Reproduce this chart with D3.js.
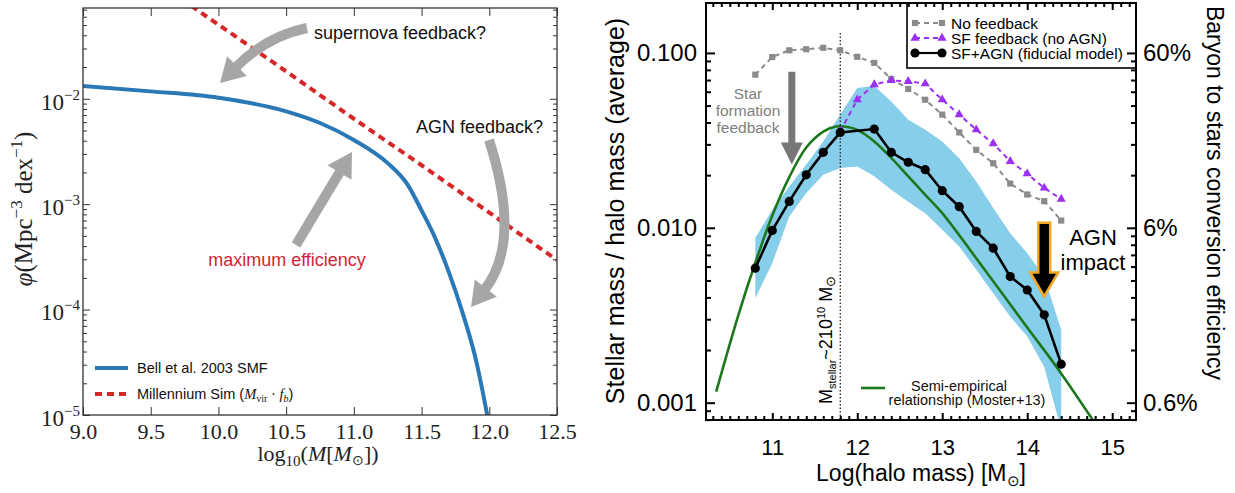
<!DOCTYPE html>
<html>
<head>
<meta charset="utf-8">
<script src="https://cdn.jsdelivr.net/npm/d3@7"></script>
<style>
  body { margin: 0; background: #fff; }
  svg { display: block; }
</style>
</head>
<body>
<svg id="chart" width="1235" height="493"></svg>
<script>
// ---- left panel: stellar mass function vs halo mass function ----
const bellMass = [9.0, 9.5, 10.0, 10.5, 10.75, 11.0, 11.25, 11.4, 11.5, 11.6, 11.7, 11.8, 11.9, 12.0];
const bellPhi = [0.01318, 0.01175, 0.01023, 0.00759, 0.00589, 0.00407, 0.00245, 0.00151, 0.000871, 0.000479, 0.000229, 0.0000955, 0.0000339, 0.0000079];
const millMass = [9.8, 10.5, 11.0, 11.5, 12.0, 12.5];
const millPhi = [0.0759, 0.0182, 0.00646, 0.00234, 0.000832, 0.000295];
const leftXTicks = [9.0, 9.5, 10.0, 10.5, 11.0, 11.5, 12.0, 12.5];
const leftYTicks = [1e-5, 1e-4, 1e-3, 1e-2];

// ---- right panel: stellar mass / halo mass ----
const haloMass = [10.8, 11.0, 11.2, 11.4, 11.6, 11.8, 12.0, 12.2, 12.4, 12.6, 12.8, 13.0, 13.2, 13.4, 13.6, 13.8, 14.0, 14.2, 14.4];
const noFeedback = [0.0751, 0.0948, 0.1035, 0.105, 0.107, 0.1035, 0.095, 0.0877, 0.071, 0.0622, 0.054, 0.0444, 0.0351, 0.0279, 0.0234, 0.0179, 0.0155, 0.0142, 0.011];
const sfMass = [11.8, 12.0, 12.2, 12.4, 12.6, 12.8, 13.0, 13.2, 13.4, 13.6, 13.8, 14.0, 14.2, 14.4];
const sfFeedback = [0.0356, 0.054, 0.0659, 0.0697, 0.0688, 0.0667, 0.054, 0.0444, 0.0364, 0.0303, 0.024, 0.0204, 0.0169, 0.0146];
const agnMass = [10.8, 11.0, 11.2, 11.4, 11.6, 11.8, 12.2, 12.4, 12.6, 12.8, 13.0, 13.2, 13.4, 13.6, 13.8, 14.0, 14.2, 14.4];
const sfAgn = [0.00588, 0.00966, 0.01416, 0.0201, 0.027, 0.0351, 0.0367, 0.027, 0.0237, 0.0215, 0.0163, 0.0132, 0.00953, 0.00765, 0.00526, 0.00441, 0.00318, 0.00166];
const bandHigh = [0.00873, 0.01268, 0.0172, 0.023, 0.0312, 0.0444, 0.063, 0.065, 0.0528, 0.0415, 0.0364, 0.0312, 0.025, 0.0184, 0.013, 0.0093, 0.00716, 0.00526, 0.0026];
const bandLow = [0.00396, 0.00628, 0.0116, 0.0158, 0.0201, 0.022, 0.0224, 0.0197, 0.0165, 0.0141, 0.0121, 0.00975, 0.00782, 0.00575, 0.00423, 0.0031, 0.00239, 0.0016, 0.0007];
const mosterMass = [10.34, 10.6, 10.8, 11.0, 11.2, 11.4, 11.6, 11.75, 11.9, 12.0, 12.2, 12.4, 12.6, 12.8, 13.0, 13.5, 14.0, 14.37, 14.8];
const mosterRatio = [0.001156, 0.00316, 0.00631, 0.01175, 0.0195, 0.0288, 0.0355, 0.038, 0.0376, 0.0363, 0.0312, 0.0251, 0.0197, 0.01545, 0.01213, 0.00575, 0.00269, 0.00154, 0.00076];
const rightXTicks = [11, 12, 13, 14, 15];
const rightYTicks = [0.001, 0.01, 0.1];
const efficiencyTicks = ['0.6%', '6%', '60%'];

const SANS = '"Liberation Sans", Arial, Helvetica, sans-serif';
const SERIF = '"Liberation Serif", "Times New Roman", serif';

const svg = d3.select('#chart');

// append a list of styled tspans to a text element
function addParts(text, parts) {
  parts.forEach(p => {
    const t = text.append('tspan').text(p.t);
    if (p.size) t.attr('font-size', p.size);
    if (p.dy) t.attr('dy', p.dy);
    if (p.dx) t.attr('dx', p.dx);
    if (p.italic) t.attr('font-style', 'italic');
    if (p.family) t.attr('font-family', p.family);
  });
  return text;
}

// curved block arrow: start, control, tip (pixels)
function curvedArrow(g, p0, c, p2, o) {
  const dx = p2[0] - c[0], dy = p2[1] - c[1], len = Math.hypot(dx, dy);
  const ux = dx / len, uy = dy / len;
  const bx = p2[0] - ux * o.head, by = p2[1] - uy * o.head;
  const p = d3.path();
  p.moveTo(p0[0], p0[1]);
  p.quadraticCurveTo(c[0], c[1], bx + ux * 2, by + uy * 2);
  g.append('path').attr('d', p).attr('fill', 'none')
    .attr('stroke', o.color).attr('stroke-width', o.width);
  g.append('path')
    .attr('d', `M${p2[0]},${p2[1]}L${bx - uy * o.half},${by + ux * o.half}L${bx + uy * o.half},${by - ux * o.half}Z`)
    .attr('fill', o.color);
}

// vertical block arrow pointing down
function downArrow(g, x, y0, y1, o) {
  const s = o.shaft / 2, h = o.half, yb = y1 - o.head;
  const pts = [[x - s, y0], [x + s, y0], [x + s, yb], [x + h, yb], [x, y1], [x - h, yb], [x - s, yb]];
  g.append('path').attr('d', 'M' + pts.join('L') + 'Z')
    .attr('fill', o.fill).attr('stroke', o.stroke || 'none')
    .attr('stroke-width', o.strokeWidth || 0).attr('stroke-linejoin', 'miter');
}

function tickStyle(g, color, width) {
  g.select('.domain').remove();
  g.selectAll('.tick line').attr('stroke', color).attr('stroke-width', width);
  return g;
}

// =================== LEFT PANEL ===================
const L = {left: 83, right: 557, top: 8, bottom: 415};
const xL = d3.scaleLinear().domain([9, 12.5]).range([L.left, L.right]);
const yL = d3.scaleLog().domain([1e-5, 0.0726]).range([L.bottom, L.top]);
const gL = svg.append('g');

gL.append('clipPath').attr('id', 'clipL').append('rect')
  .attr('x', L.left).attr('y', L.top).attr('width', L.right - L.left).attr('height', L.bottom - L.top);

const plotL = gL.append('g').attr('clip-path', 'url(#clipL)');
plotL.append('path')
  .datum(d3.zip(millMass, millPhi))
  .attr('d', d3.line().x(d => xL(d[0])).y(d => yL(d[1])))
  .attr('fill', 'none').attr('stroke', '#d62728').attr('stroke-width', 4)
  .attr('stroke-dasharray', '7,5');
plotL.append('path')
  .datum(d3.zip(bellMass, bellPhi))
  .attr('d', d3.line().curve(d3.curveMonotoneX).x(d => xL(d[0])).y(d => yL(d[1])))
  .attr('fill', 'none').attr('stroke', '#2a78b6').attr('stroke-width', 4);

// annotation arrows
const grayArrow = {color: '#a6a6a6', width: 10, head: 24, half: 14};
curvedArrow(gL, [307, 28], [267, 36], [220, 83], grayArrow);
curvedArrow(gL, [489, 140], [522, 242], [471, 307], grayArrow);
curvedArrow(gL, [296, 245], [324, 198], [352, 152], grayArrow);

gL.append('text').attr('x', 314).attr('y', 39).attr('font-family', SANS).attr('font-size', 18)
  .attr('fill', '#111').text('supernova feedback?');
gL.append('text').attr('x', 416).attr('y', 133).attr('font-family', SANS).attr('font-size', 18)
  .attr('fill', '#111').text('AGN feedback?');
gL.append('text').attr('x', 287).attr('y', 266).attr('text-anchor', 'middle').attr('font-family', SANS)
  .attr('font-size', 18).attr('fill', '#d51f34').text('maximum efficiency');

// axes
const minorL = yL.ticks().filter(v => !leftYTicks.some(m => Math.abs(m - v) / m < 1e-6));
const bottomL = tickStyle(gL.append('g').attr('transform', `translate(0,${L.bottom})`)
  .call(d3.axisBottom(xL).tickValues(leftXTicks).tickSize(-8).tickPadding(8).tickFormat(d3.format('.1f'))), '#333', 1);
bottomL.selectAll('text').attr('font-family', SERIF).attr('font-size', 22).attr('fill', '#222');
tickStyle(gL.append('g').attr('transform', `translate(0,${L.top})`)
  .call(d3.axisTop(xL).tickValues(leftXTicks).tickSize(-8).tickFormat('')), '#333', 1);

const leftAx = tickStyle(gL.append('g').attr('transform', `translate(${L.left},0)`)
  .call(d3.axisLeft(yL).tickValues(leftYTicks).tickSize(-7).tickPadding(3).tickFormat('')), '#333', 1);
leftAx.selectAll('.tick text')
  .attr('font-family', SERIF).attr('font-size', 23).attr('fill', '#222').attr('dy', '0.45em')
  .each(function (d) {
    addParts(d3.select(this), [{t: '10'}, {t: '\u2212' + Math.round(-Math.log10(d)), size: 15, dy: -10}]);
  });
tickStyle(gL.append('g').attr('transform', `translate(${L.left},0)`)
  .call(d3.axisLeft(yL).tickValues(minorL).tickSize(-4).tickFormat('')), '#333', 1);
tickStyle(gL.append('g').attr('transform', `translate(${L.right},0)`)
  .call(d3.axisRight(yL).tickValues(leftYTicks).tickSize(-7).tickFormat('')), '#333', 1);
tickStyle(gL.append('g').attr('transform', `translate(${L.right},0)`)
  .call(d3.axisRight(yL).tickValues(minorL).tickSize(-4).tickFormat('')), '#333', 1);

gL.append('rect').attr('x', L.left).attr('y', L.top).attr('width', L.right - L.left)
  .attr('height', L.bottom - L.top).attr('fill', 'none').attr('stroke', '#333').attr('stroke-width', 1.3);

// axis titles
addParts(gL.append('text').attr('x', 318).attr('y', 461).attr('text-anchor', 'middle')
  .attr('font-family', SERIF).attr('font-size', 22).attr('fill', '#222'),
  [{t: 'log'}, {t: '10', size: 15, dy: 5}, {t: '(', dy: -5}, {t: 'M', italic: true}, {t: '['},
   {t: 'M', italic: true}, {t: '\u2299', size: 14, dy: 4}, {t: '])', dy: -4}]);
addParts(gL.append('text').attr('transform', 'translate(32,209) rotate(-90)').attr('text-anchor', 'middle')
  .attr('font-family', SERIF).attr('font-size', 25).attr('fill', '#222'),
  [{t: '\u03c6', italic: true}, {t: '(Mpc'}, {t: '\u22123', size: 17, dy: -10}, {t: ' dex', dy: 10},
   {t: '\u22121', size: 17, dy: -10}, {t: ')', dy: 10}]);

// legend
gL.append('line').attr('x1', 95).attr('x2', 128).attr('y1', 368).attr('y2', 368)
  .attr('stroke', '#2a78b6').attr('stroke-width', 4);
gL.append('line').attr('x1', 95).attr('x2', 128).attr('y1', 394).attr('y2', 394)
  .attr('stroke', '#d62728').attr('stroke-width', 4).attr('stroke-dasharray', '7,5');
gL.append('text').attr('x', 137).attr('y', 373).attr('font-family', SANS).attr('font-size', 14.5)
  .attr('fill', '#111').text('Bell et al. 2003 SMF');
addParts(gL.append('text').attr('x', 137).attr('y', 399).attr('font-family', SANS).attr('font-size', 14.5)
  .attr('fill', '#111'),
  [{t: 'Millennium Sim ('}, {t: 'M', italic: true, family: SERIF}, {t: 'vir', size: 10, dy: 3, family: SERIF},
   {t: ' \u00b7 ', dy: -3, family: SERIF}, {t: 'f', italic: true, family: SERIF},
   {t: 'b', size: 10, dy: 3, italic: true, family: SERIF}, {t: ')', dy: -3}]);

// =================== RIGHT PANEL ===================
const R = {left: 706, right: 1136, top: 3, bottom: 420};
const xR = d3.scaleLinear().domain([10.22, 15.28]).range([R.left, R.right]);
const yR = d3.scaleLog().domain([0.000796, 0.193]).range([R.bottom, R.top]);
const gR = svg.append('g');

gR.append('clipPath').attr('id', 'clipR').append('rect')
  .attr('x', R.left).attr('y', R.top).attr('width', R.right - R.left).attr('height', R.bottom - R.top);
const plotR = gR.append('g').attr('clip-path', 'url(#clipR)');

plotR.append('path')
  .datum(haloMass.map((m, i) => [m, bandLow[i], bandHigh[i]]))
  .attr('d', d3.area().x(d => xR(d[0])).y0(d => yR(d[1])).y1(d => yR(d[2])))
  .attr('fill', '#87ceeb');

plotR.append('path')
  .datum(d3.zip(mosterMass, mosterRatio))
  .attr('d', d3.line().curve(d3.curveCatmullRom).x(d => xR(d[0])).y(d => yR(d[1])))
  .attr('fill', 'none').attr('stroke', '#1d771d').attr('stroke-width', 2.6);

const dividerMass = 11.8;
plotR.append('line').attr('x1', xR(dividerMass)).attr('x2', xR(dividerMass))
  .attr('y1', yR(0.13)).attr('y2', R.bottom)
  .attr('stroke', '#222').attr('stroke-width', 1.3).attr('stroke-dasharray', '1.5,2');

const lineR = d3.line().x(d => xR(d[0])).y(d => yR(d[1]));

plotR.append('path').datum(d3.zip(haloMass, noFeedback)).attr('d', lineR)
  .attr('fill', 'none').attr('stroke', '#8a8a8a').attr('stroke-width', 2).attr('stroke-dasharray', '5,4');
plotR.selectAll('.sq').data(d3.zip(haloMass, noFeedback)).join('path')
  .attr('transform', d => `translate(${xR(d[0])},${yR(d[1])})`)
  .attr('d', d3.symbol(d3.symbolSquare, 38)).attr('fill', '#8a8a8a');

plotR.append('path').datum(d3.zip(sfMass, sfFeedback)).attr('d', lineR)
  .attr('fill', 'none').attr('stroke', '#9b30f0').attr('stroke-width', 2).attr('stroke-dasharray', '5,4');
plotR.selectAll('.tri').data(d3.zip(sfMass, sfFeedback)).join('path')
  .attr('transform', d => `translate(${xR(d[0])},${yR(d[1])})`)
  .attr('d', d3.symbol(d3.symbolTriangle, 36)).attr('fill', '#9b30f0');

plotR.append('path').datum(d3.zip(agnMass, sfAgn)).attr('d', lineR)
  .attr('fill', 'none').attr('stroke', '#000').attr('stroke-width', 2.6);
plotR.selectAll('.dot').data(d3.zip(agnMass, sfAgn)).join('circle')
  .attr('cx', d => xR(d[0])).attr('cy', d => yR(d[1])).attr('r', 4.6).attr('fill', '#000');

// annotations
downArrow(gR, xR(11.23), yR(0.078), yR(0.023), {shaft: 7, half: 11, head: 22, fill: '#777'});
['Star', 'formation', 'feedback'].forEach((s, i) => {
  gR.append('text').attr('x', 748).attr('y', 99 + i * 17).attr('text-anchor', 'middle')
    .attr('font-family', SANS).attr('font-size', 15.5).attr('fill', '#808080').text(s);
});
downArrow(gR, xR(14.2), yR(0.0107), yR(0.00405), {shaft: 12, half: 14, head: 24, fill: '#000', stroke: '#f5a623', strokeWidth: 2.5});
gR.append('text').attr('x', 1093).attr('y', 245).attr('text-anchor', 'middle')
  .attr('font-family', SANS).attr('font-size', 22).attr('fill', '#000').text('AGN');
gR.append('text').attr('x', 1093).attr('y', 270).attr('text-anchor', 'middle')
  .attr('font-family', SANS).attr('font-size', 22).attr('fill', '#000').text('impact');

addParts(gR.append('text').attr('transform', `translate(${xR(dividerMass) - 8},404) rotate(-90)`)
  .attr('font-family', SANS).attr('font-size', 18).attr('fill', '#000'),
  [{t: 'M'}, {t: 'stellar', size: 11, dy: 4}, {t: '~2', dy: -4}, {t: '10'},
   {t: '10', size: 11, dy: -7}, {t: ' M', dy: 7}, {t: '\u2299', size: 13, dy: 3}]);

// moster legend
gR.append('line').attr('x1', 861).attr('x2', 885).attr('y1', 388).attr('y2', 388)
  .attr('stroke', '#1d771d').attr('stroke-width', 2.6);
gR.append('text').attr('x', 959).attr('y', 391).attr('text-anchor', 'middle')
  .attr('font-family', SANS).attr('font-size', 14.5).attr('fill', '#111').text('Semi-empirical');
gR.append('text').attr('x', 967).attr('y', 405).attr('text-anchor', 'middle')
  .attr('font-family', SANS).attr('font-size', 14.5).attr('fill', '#111').text('relationship (Moster+13)');

// series legend
gR.append('rect').attr('x', 907).attr('y', R.top).attr('width', R.right - 907).attr('height', 65)
  .attr('fill', '#fff').attr('stroke', '#000').attr('stroke-width', 1.6);
const legendRows = [
  {label: 'No feedback', y: 23, color: '#8a8a8a', dash: '5,4', sym: d3.symbolSquare, size: 38},
  {label: 'SF feedback (no AGN)', y: 38, color: '#9b30f0', dash: '5,4', sym: d3.symbolTriangle, size: 36},
  {label: 'SF+AGN (fiducial model)', y: 53, color: '#000', dash: null, sym: d3.symbolCircle, size: 66}
];
legendRows.forEach(r => {
  gR.append('line').attr('x1', 915).attr('x2', 942).attr('y1', r.y).attr('y2', r.y)
    .attr('stroke', r.color).attr('stroke-width', 2.2).attr('stroke-dasharray', r.dash);
  [915, 942].forEach(x => gR.append('path').attr('transform', `translate(${x},${r.y})`)
    .attr('d', d3.symbol(r.sym, r.size)).attr('fill', r.color));
  gR.append('text').attr('x', 951).attr('y', r.y).attr('dy', '0.36em')
    .attr('font-family', SANS).attr('font-size', 15.5).attr('fill', '#000').text(r.label);
});

// axes
const minorRY = yR.ticks().filter(v => !rightYTicks.some(m => Math.abs(m - v) / m < 1e-6));
const minorRX = xR.ticks(50).filter(v => !rightXTicks.includes(v));
const bottomR = tickStyle(gR.append('g').attr('transform', `translate(0,${R.bottom})`)
  .call(d3.axisBottom(xR).tickValues(rightXTicks).tickSize(-7).tickPadding(19).tickFormat(d3.format('d'))), '#000', 2);
bottomR.selectAll('text').attr('font-family', SANS).attr('font-size', 22).attr('fill', '#000');
tickStyle(gR.append('g').attr('transform', `translate(0,${R.bottom})`)
  .call(d3.axisBottom(xR).tickValues(minorRX).tickSize(-4).tickFormat('')), '#000', 2);
tickStyle(gR.append('g').attr('transform', `translate(0,${R.top})`)
  .call(d3.axisTop(xR).tickValues(rightXTicks).tickSize(-7).tickFormat('')), '#000', 2);
tickStyle(gR.append('g').attr('transform', `translate(0,${R.top})`)
  .call(d3.axisTop(xR).tickValues(minorRX).tickSize(-4).tickFormat('')), '#000', 2);

const leftR = tickStyle(gR.append('g').attr('transform', `translate(${R.left},0)`)
  .call(d3.axisLeft(yR).tickValues(rightYTicks).tickSize(-9).tickPadding(9).tickFormat(d3.format('.3f'))), '#000', 2);
leftR.selectAll('text').attr('font-family', SANS).attr('font-size', 24).attr('fill', '#000');
tickStyle(gR.append('g').attr('transform', `translate(${R.left},0)`)
  .call(d3.axisLeft(yR).tickValues(minorRY).tickSize(-5).tickFormat('')), '#000', 2);
const rightR = tickStyle(gR.append('g').attr('transform', `translate(${R.right},0)`)
  .call(d3.axisRight(yR).tickValues(rightYTicks).tickSize(-9).tickPadding(7).tickFormat((d, i) => efficiencyTicks[i])), '#000', 2);
rightR.selectAll('text').attr('font-family', SANS).attr('font-size', 24).attr('fill', '#000');
tickStyle(gR.append('g').attr('transform', `translate(${R.right},0)`)
  .call(d3.axisRight(yR).tickValues(minorRY).tickSize(-5).tickFormat('')), '#000', 2);

gR.append('rect').attr('x', R.left).attr('y', R.top).attr('width', R.right - R.left)
  .attr('height', R.bottom - R.top).attr('fill', 'none').attr('stroke', '#000').attr('stroke-width', 2);

// titles
addParts(gR.append('text').attr('x', (R.left + R.right) / 2).attr('y', 481).attr('text-anchor', 'middle')
  .attr('font-family', SANS).attr('font-size', 23).attr('fill', '#000'),
  [{t: 'Log(halo mass) [M'}, {t: '\u2299', size: 15, dy: 5}, {t: ']', dy: -5}]);
gR.append('text').attr('transform', 'translate(615,211) rotate(-90)').attr('text-anchor', 'middle')
  .attr('dy', '0.35em').attr('font-family', SANS).attr('font-size', 25).attr('fill', '#000')
  .text('Stellar mass / halo mass (average)');
gR.append('text').attr('transform', 'translate(1215,193) rotate(90)').attr('text-anchor', 'middle')
  .attr('dy', '0.35em').attr('font-family', SANS).attr('font-size', 23).attr('fill', '#000')
  .text('Baryon to stars conversion efficiency');
</script>
</body>
</html>
